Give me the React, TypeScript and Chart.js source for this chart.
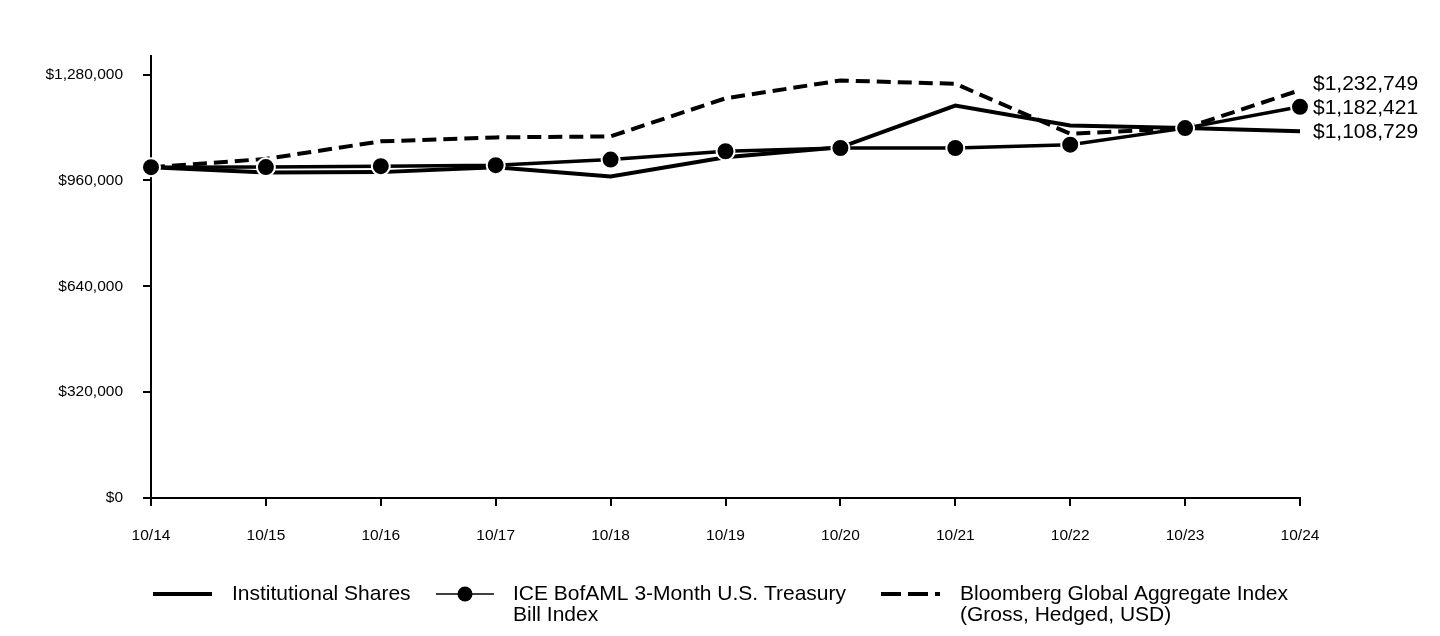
import React, { useEffect, useRef } from 'react';
import { Chart, registerables } from 'chart.js';

Chart.register(...registerables);

const categories = ['10/14', '10/15', '10/16', '10/17', '10/18', '10/19', '10/20', '10/21', '10/22', '10/23', '10/24'];
const institutional = [1000000, 984000, 985000, 1000000, 972000, 1030000, 1060000, 1186000, 1126000, 1118000, 1108729];
const iceTBill = [1000000, 1000300, 1003000, 1006000, 1023000, 1048000, 1058000, 1058000, 1068000, 1118000, 1182421];
const bloomberg = [1000000, 1025000, 1078000, 1090000, 1093000, 1208000, 1262000, 1252000, 1101000, 1118000, 1232749];
const yTicks = [0, 320000, 640000, 960000, 1280000];
const yMax = 1336000;
const seriesNames = [
  ['Institutional Shares'],
  ['ICE BofAML 3-Month U.S. Treasury', 'Bill Index'],
  ['Bloomberg Global Aggregate Index', '(Gross, Hedged, USD)'],
];

const FONT = "'Liberation Sans', Arial, sans-serif";
const fmt = (v: number) => '$' + Math.round(v).toLocaleString('en-US');

const endLabelPlugin = {
  id: 'endLabels',
  afterDatasetsDraw(chart: any) {
    const ctx = chart.ctx;
    const items: { y: number; text: string }[] = [];
    chart.data.datasets.forEach((ds: any, i: number) => {
      const meta = chart.getDatasetMeta(i);
      const pt = meta.data[meta.data.length - 1];
      items.push({ y: pt.y, text: fmt(ds.data[ds.data.length - 1]) });
    });
    items.sort((a, b) => b.y - a.y);
    for (let i = 1; i < items.length; i++) {
      if (items[i].y > items[i - 1].y - 24) items[i].y = items[i - 1].y - 24;
    }
    ctx.save();
    ctx.fillStyle = '#000';
    ctx.font = `21px ${FONT}`;
    ctx.textAlign = 'left';
    ctx.textBaseline = 'middle';
    const x = chart.chartArea.right + 13;
    items.forEach((it) => ctx.fillText(it.text, x, it.y + 1));
    ctx.restore();
  },
};

const legendPlugin = {
  id: 'customLegend',
  afterDraw(chart: any) {
    const ctx = chart.ctx;
    const y0 = 594;
    const lh = 21;
    ctx.save();
    ctx.strokeStyle = '#000';
    ctx.fillStyle = '#000';
    ctx.lineWidth = 4;
    ctx.setLineDash([]);
    ctx.beginPath();
    ctx.moveTo(153, y0);
    ctx.lineTo(212, y0);
    ctx.stroke();
    ctx.lineWidth = 1.5;
    ctx.beginPath();
    ctx.moveTo(436, y0);
    ctx.lineTo(494, y0);
    ctx.stroke();
    ctx.beginPath();
    ctx.arc(465, y0, 7.5, 0, Math.PI * 2);
    ctx.fill();
    ctx.lineWidth = 4;
    ctx.setLineDash([20, 7]);
    ctx.beginPath();
    ctx.moveTo(881, y0);
    ctx.lineTo(940, y0);
    ctx.stroke();
    ctx.setLineDash([]);
    ctx.font = `21px ${FONT}`;
    ctx.textAlign = 'left';
    ctx.textBaseline = 'middle';
    const xs = [232, 513, 960];
    seriesNames.forEach((lines, i) => {
      lines.forEach((t, j) => ctx.fillText(t, xs[i], y0 + j * lh));
    });
    ctx.restore();
  },
};

export default function App() {
  const ref = useRef<HTMLCanvasElement | null>(null);
  useEffect(() => {
    if (!ref.current) return;
    const chart = new Chart(ref.current, {
      type: 'line',
      data: {
        labels: categories,
        datasets: [
          {
            label: seriesNames[0].join(' '),
            data: institutional,
            borderColor: '#000',
            borderWidth: 4,
            pointRadius: 0,
            tension: 0,
            order: 2,
          },
          {
            label: seriesNames[1].join(' '),
            data: iceTBill,
            borderColor: '#000',
            borderWidth: 3.5,
            pointRadius: 9,
            pointBackgroundColor: '#000',
            pointBorderColor: '#fff',
            pointBorderWidth: 2,
            tension: 0,
            order: 0,
          },
          {
            label: seriesNames[2].join(' '),
            data: bloomberg,
            borderColor: '#000',
            borderWidth: 4,
            borderDash: [14, 7],
            pointRadius: 0,
            tension: 0,
            order: 1,
          },
        ],
      },
      options: {
        animation: false,
        responsive: true,
        maintainAspectRatio: false,
        layout: { padding: { left: 0, right: 140, top: 56, bottom: 0 } },
        plugins: { legend: { display: false }, tooltip: { enabled: false } },
        scales: {
          x: {
            offset: false,
            grid: { drawOnChartArea: false, drawTicks: true, tickLength: 8, color: '#000', lineWidth: 2 },
            border: { color: '#000', width: 2 },
            ticks: { color: '#000', font: { family: FONT, size: 15.5 }, padding: 20, maxRotation: 0, autoSkip: false },
            afterFit: (s: any) => { s.height = 138; },
          },
          y: {
            min: 0,
            max: yMax,
            grid: { drawOnChartArea: false, drawTicks: true, tickLength: 8, color: '#000', lineWidth: 2 },
            border: { color: '#000', width: 2 },
            ticks: { color: '#000', font: { family: FONT, size: 15.5 }, padding: 20, callback: (v: any) => fmt(Number(v)) },
            afterBuildTicks: (s: any) => { s.ticks = yTicks.map((v) => ({ value: v })); },
            afterFit: (s: any) => { s.width = 151; },
          },
        },
      },
      plugins: [endLabelPlugin, legendPlugin],
    });
    return () => chart.destroy();
  }, []);
  return (
    <div style={{ position: 'fixed', left: 0, top: 0, width: 1440, height: 636, background: '#fff' }}>
      <canvas ref={ref} />
    </div>
  );
}
